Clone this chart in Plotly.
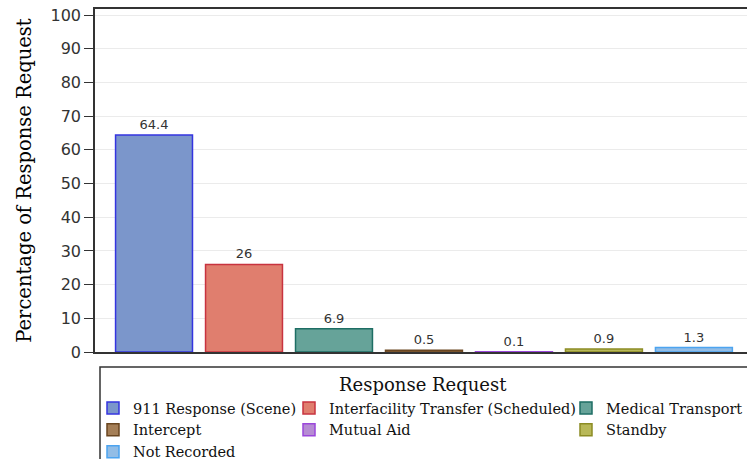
import plotly.graph_objects as go

categories = ["911 Response (Scene)", "Interfacility Transfer (Scheduled)", "Medical Transport",
              "Intercept", "Mutual Aid", "Standby", "Not Recorded"]
values = [64.4, 26, 6.9, 0.5, 0.1, 0.9, 1.3]
labels = ["64.4", "26", "6.9", "0.5", "0.1", "0.9", "1.3"]
fill_colors = ["#7B96CB", "#E07E6E", "#66A399", "#A57F57", "#B68CD3", "#B8B858", "#92BDE6"]
line_colors = ["#3434E0", "#C8333F", "#1E6E64", "#6A4620", "#9B47DB", "#8C8C24", "#4CA4F0"]
legend_ids = ["legend", "legend2", "legend3", "legend", "legend2", "legend3", "legend"]

W, H = 747, 459
L, R, T, B = 95, 0, 9, 107
pw, ph = W - L - R, H - T - B

def px(x):
    return (x - L) / pw

def py(y):
    return (H - B - y) / ph

serif = "DejaVu Serif"
sans = "DejaVu Sans"

fig = go.Figure()
for cat, v, lab, fc, lc, lg in zip(categories, values, labels, fill_colors, line_colors, legend_ids):
    fig.add_trace(go.Bar(
        x=[cat], y=[v], name=cat, text=[lab], textposition="outside",
        textfont=dict(family=sans, size=13, color="#333333"),
        marker=dict(color=fc, line=dict(color=lc, width=1.5)),
        width=0.855, legend=lg, cliponaxis=False,
    ))

legend_common = dict(
    orientation="v", bgcolor="rgba(0,0,0,0)", borderwidth=0,
    font=dict(family=serif, size=14.5, color="#111111"),
    yanchor="top", xanchor="left", tracegroupgap=0, itemwidth=30,
)

fig.update_layout(
    width=W, height=H,
    margin=dict(l=L, r=R, t=T, b=B, pad=0, autoexpand=False),
    paper_bgcolor="white", plot_bgcolor="white",
    barmode="overlay",
    showlegend=True,
    legend=dict(x=px(93), y=py(392), **legend_common),
    legend2=dict(x=px(289), y=py(392), **legend_common),
    legend3=dict(x=px(566), y=py(392), **legend_common),
    xaxis=dict(
        type="category", categoryorder="array", categoryarray=categories,
        range=[-0.656, 6.59], showticklabels=False, ticks="",
        showline=True, linecolor="#333333", linewidth=1.5, mirror=True,
        showgrid=False, zeroline=False,
    ),
    yaxis=dict(
        range=[0, 101.8], tickvals=list(range(0, 101, 10)),
        ticks="outside", ticklen=9, tickcolor="#333333", tickwidth=1,
        tickfont=dict(family=sans, size=16, color="#333333"),
        showline=True, linecolor="#333333", linewidth=1.5,
        showgrid=True, gridcolor="#EBEBEB", gridwidth=1, zeroline=False,
        title=dict(text="Percentage of Response Request",
                   font=dict(family=serif, size=19.5, color="#000000"), standoff=14),
    ),
    shapes=[dict(type="rect", xref="paper", yref="paper",
                 x0=px(100), x1=px(760), y0=py(367), y1=py(475),
                 line=dict(color="#333333", width=1.5), fillcolor="rgba(0,0,0,0)")],
    annotations=[dict(text="Response Request", xref="paper", yref="paper",
                      x=px(423), y=py(385), xanchor="center", yanchor="middle",
                      showarrow=False, font=dict(family=serif, size=18, color="#111111"))],
)

fig.write_html("out.html", config={"displayModeBar": False},
               post_script="document.body.style.margin='0';")
